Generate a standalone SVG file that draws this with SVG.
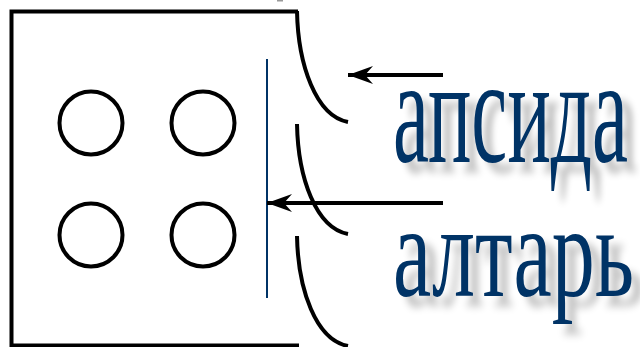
<svg xmlns="http://www.w3.org/2000/svg" width="640" height="347" viewBox="0 0 640 347">
<style>
.k{fill:none;stroke:#000;stroke-width:4}
.b{font-family:"Liberation Serif","Times New Roman",serif}
.t{fill:#003366}
.s{fill:#000;opacity:.26;filter:url(#blur)}
</style>
<defs>
<filter id="blur" x="-10%" y="-20%" width="120%" height="140%"><feGaussianBlur stdDeviation="6 4"/></filter>
<marker id="arrow" markerUnits="userSpaceOnUse" markerWidth="26" markerHeight="20" refX="25" refY="10" orient="auto"><path d="M25 10L0 1L8 10L0 19Z" fill="#000"/></marker>
</defs>
<rect width="640" height="347" fill="#fff"/>
<g id="walls">
<path class="k" d="M298 11.500H11.500V345.500H299"/>
<path class="k" d="M297 11C298 65 316 116 348 122"/>
<path class="k" d="M297 124C298 178 316 228 348 234"/>
<path class="k" d="M297 236C298 290 316 340 348 346"/>
<rect x="277" y="0" width="6" height="1.500" fill="#999"/>
</g>
<g id="columns">
<circle class="k" cx="91" cy="123" r="31.500"/>
<circle class="k" cx="203" cy="123" r="31.500"/>
<circle class="k" cx="91" cy="235" r="31.500"/>
<circle class="k" cx="203" cy="235" r="31.500"/>
</g>
<line id="altar-line" x1="267" y1="59" x2="267" y2="298" stroke="#003366" stroke-width="2"/>
<g id="connectors">
<line class="k" x1="443" y1="75" x2="348" y2="75" marker-end="url(#arrow)"/>
<line class="k" x1="443" y1="203" x2="267" y2="203" marker-end="url(#arrow)"/>
</g>
<g id="label-apsida">
<text class="b s" font-size="150" transform="translate(403 172) scale(.541 1)">апсида</text>
<text class="b t" font-size="150" transform="translate(393 162) scale(.541 1)">апсида</text>
</g>
<g id="label-altar">
<text class="b s" font-size="132" transform="translate(403 306) scale(.652 1)">алтарь</text>
<text class="b t" font-size="132" transform="translate(393 296) scale(.652 1)">алтарь</text>
</g>
</svg>
